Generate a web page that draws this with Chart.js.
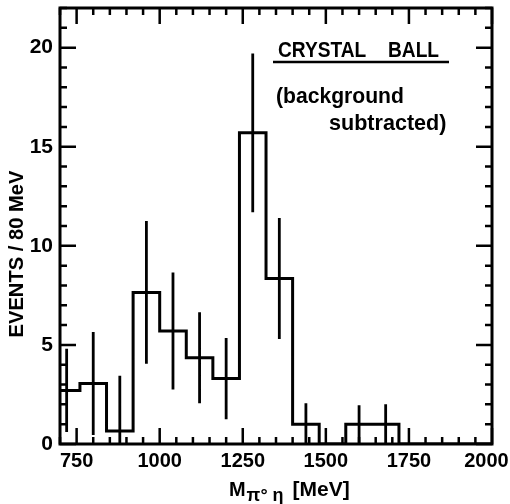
<!DOCTYPE html>
<html>
<head>
<meta charset="utf-8">
<title>Crystal Ball</title>
<script src="https://cdn.jsdelivr.net/npm/chart.js@4.4.1/dist/chart.umd.min.js"></script>
<style>
  body { margin: 0; background: #fff; }
  #wrap { width: 510px; height: 504px; position: relative; }
</style>
</head>
<body>
<div id="wrap"><canvas id="histo"></canvas></div>
<script>
// Histogram: 80 MeV bins (lower edges), events per bin and their errors
var binEdges = [680, 760, 840, 920, 1000, 1080, 1160, 1240, 1320, 1400, 1480, 1560, 1640, 1720];
var events = [2.7, 3.05, 0.65, 7.65, 5.7, 4.35, 3.3, 15.7, 8.35, 1, 0, 1, 1];
var errors = [2.1, 2.6, 2.8, 3.6, 2.95, 2.3, 2.05, 4.0, 3.05, 1.05, 0, 0.95, 1.0];

// Axis labels
var xTickValues = [750, 1000, 1250, 1500, 1750, 2000];
var yTickValues = [0, 5, 10, 15, 20];

var FONT = '"Liberation Sans", Arial, sans-serif';

// Histogram outline points: each edge holds its bin value until the next edge
function histoPoints() {
    var pts = [];
    for (var i = 0; i < events.length; i++) {
        pts.push({ x: binEdges[i], y: events[i] });
    }
    pts.push({ x: binEdges[binEdges.length - 1], y: 0 });
    pts.push({ x: 2000, y: 0 });
    return pts;
}

// Error bars as vertical segments separated by gaps
function errorPoints() {
    var pts = [];
    for (var i = 0; i < events.length; i++) {
        if (events[i] <= 0) continue;
        var c = binEdges[i] + 40;
        pts.push({ x: c, y: events[i] - errors[i] });
        pts.push({ x: c, y: events[i] + errors[i] });
        pts.push({ x: c, y: null });
    }
    return pts;
}

// no extra room for overhanging tick labels, the frame is fixed
function noPadding(axis) {
    axis.paddingTop = 0;
    axis.paddingBottom = 0;
    axis.paddingLeft = 0;
    axis.paddingRight = 0;
}

// text squeezed horizontally, the lettering is narrower than the font
function narrowText(ctx, text, x, y, size, squeeze) {
    ctx.save();
    ctx.font = 'bold ' + size + 'px ' + FONT;
    ctx.translate(x, y);
    ctx.scale(squeeze, 1);
    ctx.fillText(text, 0, 0);
    var w = ctx.measureText(text).width * squeeze;
    ctx.restore();
    return w;
}

// Frame with inward ticks on all four sides
var framePlugin = {
    id: 'frame',
    afterDatasetsDraw: function(chart) {
        var ctx = chart.ctx;
        var a = chart.chartArea;
        var xs = chart.scales.x, ys = chart.scales.y;
        ctx.save();
        ctx.strokeStyle = '#000';
        ctx.lineCap = 'butt';
        ctx.lineWidth = 2.5;
        var v, px, len;
        for (v = 700; v <= 2000; v += 50) {
            px = xs.getPixelForValue(v);
            len = (v % 250 === 0) ? 16 : 7;
            ctx.beginPath();
            ctx.moveTo(px, a.bottom); ctx.lineTo(px, a.bottom - len);
            ctx.moveTo(px, a.top); ctx.lineTo(px, a.top + len);
            ctx.stroke();
        }
        for (v = 0; v <= 22; v += 1) {
            px = ys.getPixelForValue(v);
            len = (v % 5 === 0) ? 16 : 7;
            ctx.beginPath();
            ctx.moveTo(a.left, px); ctx.lineTo(a.left + len, px);
            ctx.moveTo(a.right, px); ctx.lineTo(a.right - len, px);
            ctx.stroke();
        }
        ctx.lineWidth = 3;
        ctx.strokeRect(a.left, a.top, a.right - a.left, a.bottom - a.top);
        ctx.restore();
    }
};

// Axis titles and the label in the corner
var textPlugin = {
    id: 'texts',
    afterDraw: function(chart) {
        var ctx = chart.ctx;
        ctx.save();
        ctx.fillStyle = '#000';
        ctx.strokeStyle = '#000';
        ctx.textBaseline = 'alphabetic';
        ctx.textAlign = 'left';

        narrowText(ctx, 'CRYSTAL', 278, 57, 22, 0.87);
        narrowText(ctx, 'BALL', 388, 57, 22, 0.87);
        ctx.lineWidth = 2.5;
        ctx.beginPath();
        ctx.moveTo(273, 62); ctx.lineTo(449, 62);
        ctx.stroke();

        narrowText(ctx, '(background', 276, 103, 22, 0.96);
        narrowText(ctx, 'subtracted)', 329, 130, 22, 0.98);

        // x title with subscript
        var x = 229;
        x += narrowText(ctx, 'M', x, 496, 21, 0.95) + 1;
        x += narrowText(ctx, '\u03c0\u00b0 \u03b7', x, 501, 18, 1) + 9;
        narrowText(ctx, '[MeV]', x, 496, 21, 1);

        // y title
        ctx.translate(17, 254);
        ctx.rotate(-Math.PI / 2);
        ctx.textAlign = 'center';
        ctx.textBaseline = 'middle';
        narrowText(ctx, 'EVENTS / 80 MeV', 0, 0, 21, 0.96);
        ctx.restore();
    }
};

var ctx = document.getElementById('histo').getContext('2d');
var chart = new Chart(ctx, {
    type: 'line',
    data: {
        datasets: [{
            label: 'events',
            data: histoPoints(),
            stepped: true,
            borderColor: '#000',
            borderWidth: 3,
            pointRadius: 0,
            fill: false
        }, {
            label: 'errors',
            data: errorPoints(),
            spanGaps: false,
            borderColor: '#000',
            borderWidth: 2.8,
            borderCapStyle: 'butt',
            pointRadius: 0,
            fill: false
        }]
    },
    options: {
        responsive: true,
        maintainAspectRatio: false,
        animation: false,
        layout: { padding: { left: 0, top: 8, right: 18, bottom: 0 } },
        plugins: {
            legend: { display: false },
            tooltip: { enabled: false }
        },
        scales: {
            x: {
                type: 'linear',
                min: 700,
                max: 2000,
                grid: { display: false, drawTicks: false },
                border: { display: false },
                afterBuildTicks: function(axis) {
                    axis.ticks = xTickValues.map(function(v) { return { value: v }; });
                },
                afterFit: function(axis) { axis.height = 60; noPadding(axis); },
                ticks: {
                    padding: 5,
                    color: '#000',
                    autoSkip: false,
                    maxRotation: 0,
                    font: { family: FONT, size: 20, weight: 'bold' },
                    // last label kept inside the canvas
                    callback: function(value) { return value === 2000 ? '2000  ' : String(value); }
                }
            },
            y: {
                min: 0,
                max: 22,
                grid: { display: false, drawTicks: false },
                border: { display: false },
                afterBuildTicks: function(axis) {
                    axis.ticks = yTickValues.map(function(v) { return { value: v }; });
                },
                afterFit: function(axis) { axis.width = 60; noPadding(axis); },
                ticks: {
                    padding: 7,
                    color: '#000',
                    font: { family: FONT, size: 21, weight: 'bold' },
                    callback: function(value) { return String(value); }
                }
            }
        }
    },
    plugins: [framePlugin, textPlugin]
});
</script>
</body>
</html>
